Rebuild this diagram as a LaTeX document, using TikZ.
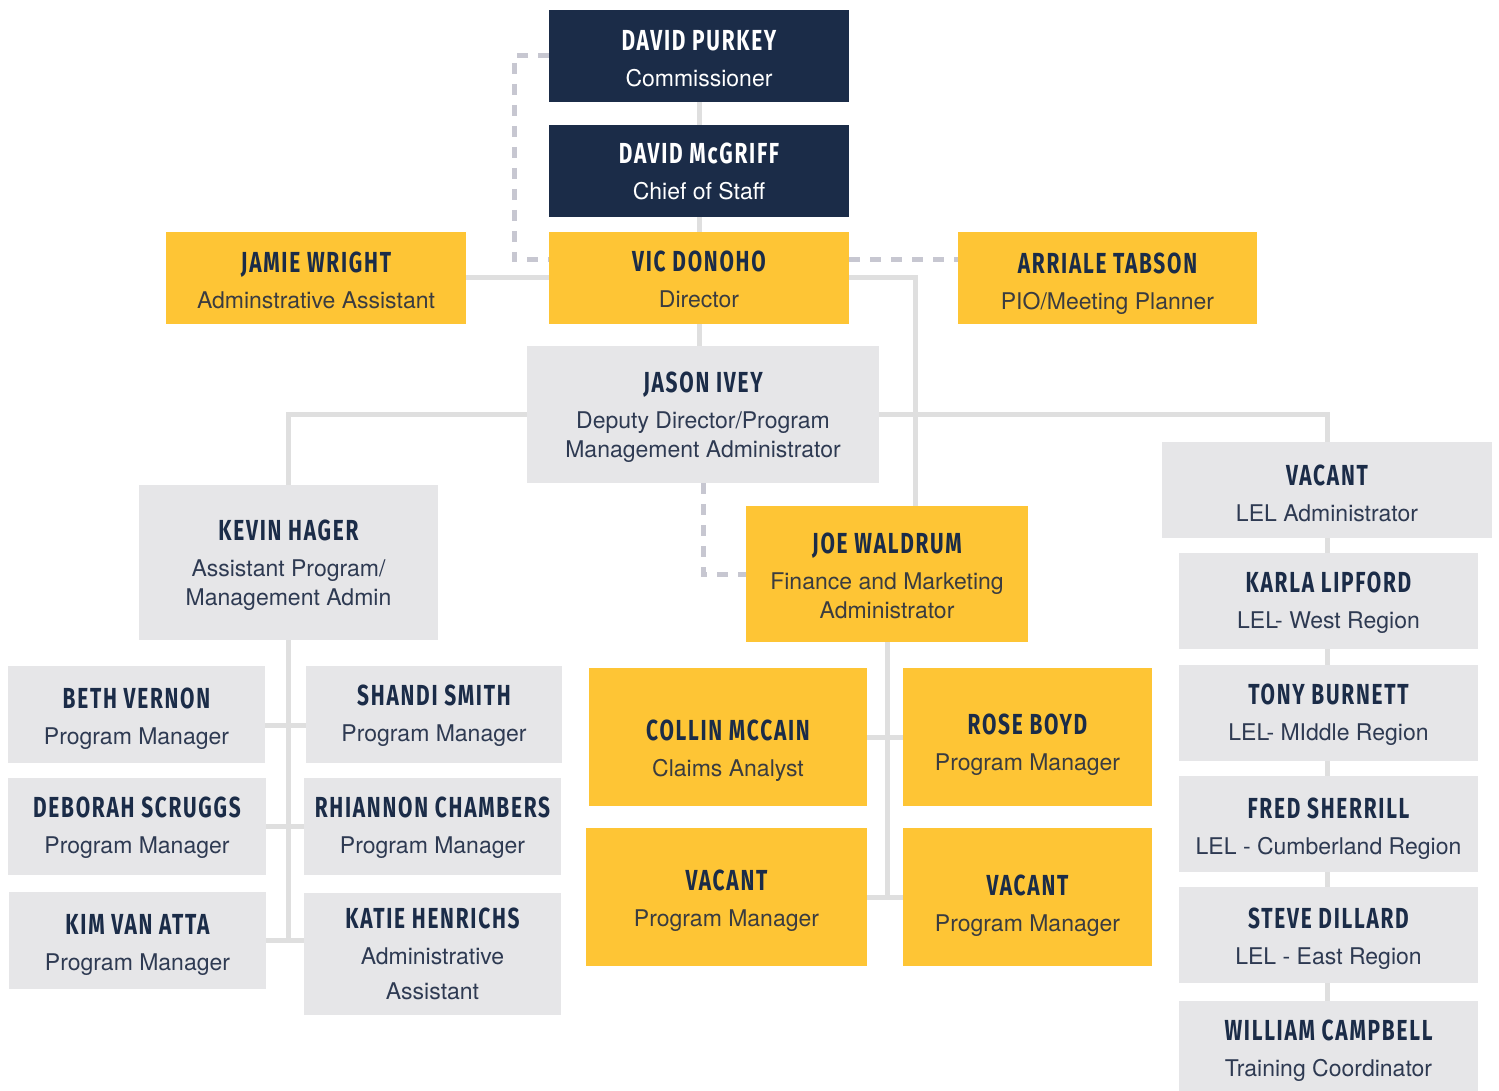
\documentclass[tikz,border=0pt]{standalone}
\usepackage{fontspec}
\setmainfont{TeX Gyre Heros}
\newfontfamily\namefont[FakeStretch=0.72,LetterSpace=6]{Fira Sans}
\usetikzlibrary{calc,backgrounds}
\definecolor{navy}{HTML}{1B2C48}
\definecolor{gold}{HTML}{FEC535}
\definecolor{boxgray}{HTML}{E6E6E8}
\definecolor{linegray}{HTML}{DFDFDF}
\definecolor{dashgray}{HTML}{C7C7D1}
\definecolor{goldtext}{HTML}{3A3C40}
\definecolor{graytext}{HTML}{2E3A52}
\colorlet{namecol}{navy}
\newcommand{\nm}[2][3pt]{{\color{namecol}\namefont\bfseries\fontsize{14.5}{14.5}\selectfont\rule{0pt}{\dimexpr10pt+#1\relax}#2}\\[3.5pt]}

\begin{document}
\begin{tikzpicture}[x=0.5pt,y=-0.5pt,
  sz/.style 2 args={minimum width=#1*0.5pt,minimum height=#2*0.5pt},
  card/.style={inner sep=0pt,outer sep=0pt,align=center,font=\fontsize{11.5}{14.5}\selectfont},
  darkbox/.style={card,fill=navy,text=white,execute at begin node={\colorlet{namecol}{white}}},
  goldbox/.style={card,fill=gold,text=goldtext},
  greybox/.style={card,fill=boxgray,text=graytext},
  link/.style={draw=linegray,line width=2.5pt},
  dashlink/.style={draw=dashgray,line width=2.5pt,dash pattern=on 5.5pt off 5pt}]
\useasboundingbox (0,0) rectangle (1499,1091);

\node[darkbox,sz={300}{92}] (purkey) at (699,56) {\nm{DAVID PURKEY}Commissioner};
\node[darkbox,sz={300}{92}] (mcgriff) at (699,171) {\nm[1pt]{DAVID McGRIFF}Chief of Staff};
\node[goldbox,sz={300}{92}] (donoho) at (699,278) {\nm[2pt]{VIC DONOHO}Director};
\node[goldbox,sz={300}{92}] (wright) at (316,278) {\nm{JAMIE WRIGHT}Adminstrative Assistant};
\node[goldbox,sz={299}{92}] (tabson) at (1107.5,278) {\nm[6pt]{ARRIALE TABSON}PIO/Meeting Planner};
\node[greybox,sz={352}{137}] (ivey) at (703,414.5) {\nm[3.5pt]{JASON IVEY}Deputy Director/Program\\Management Administrator};
\node[greybox,sz={299}{155}] (hager) at (288.5,562.5) {\nm[3.5pt]{KEVIN HAGER}Assistant Program/\\Management Admin};
\node[goldbox,sz={282}{136}] (waldrum) at (887,574) {\nm[2pt]{JOE WALDRUM}Finance and Marketing\\Administrator};

\node[greybox,sz={330}{96}] (lel) at (1327,490) {\nm[4pt]{VACANT}LEL Administrator};
\node[greybox,sz={299}{96}] (lipford) at (1328.5,601) {\nm[2pt]{KARLA LIPFORD}LEL- West Region};
\node[greybox,sz={299}{96}] (burnett) at (1328.5,713) {\nm[2.5pt]{TONY BURNETT}LEL- MIddle Region};
\node[greybox,sz={299}{96}] (sherrill) at (1328.5,824) {\nm[5pt]{FRED SHERRILL}LEL - Cumberland Region};
\node[greybox,sz={299}{96}] (dillard) at (1328.5,935) {\nm[4pt]{STEVE DILLARD}LEL - East Region};
\node[greybox,sz={299}{96}] (campbell) at (1328.5,1049) {\nm[2pt]{WILLIAM CAMPBELL}Training Coordinator};

\node[greybox,sz={257}{97}] (vernon) at (136.5,714.5) {\nm[4.5pt]{BETH VERNON}Program Manager};
\node[greybox,sz={258}{97}] (scruggs) at (137,826.5) {\nm[1.5pt]{DEBORAH SCRUGGS}Program Manager};
\node[greybox,sz={257}{97}] (vanatta) at (137.5,940.5) {\nm[4pt]{KIM VAN ATTA}Program Manager};
\node[greybox,sz={256}{97}] (smith) at (434,714.5) {\nm[1.5pt]{SHANDI SMITH}Program Manager};
\node[greybox,sz={257}{97}] (chambers) at (432.5,826.5) {\nm[1.5pt]{RHIANNON CHAMBERS}Program Manager};
\node[greybox,sz={257}{122}] (henrichs) at (432.5,954) {\nm[0pt]{KATIE HENRICHS}Administrative\\[3pt]Assistant};

\node[goldbox,sz={278}{138}] (mccain) at (728,737) {\nm[14pt]{COLLIN MCCAIN}Claims Analyst};
\node[goldbox,sz={249}{138}] (boyd) at (1027.5,737) {\nm[8.5pt]{ROSE BOYD}Program Manager};
\node[goldbox,sz={281}{138}] (vacantl) at (726.5,897) {\nm[3.5pt]{VACANT}Program Manager};
\node[goldbox,sz={249}{138}] (vacantr) at (1027.5,897) {\nm[9pt]{VACANT}Program Manager};

\begin{scope}[on background layer]
\draw[link] (purkey) -- (mcgriff) (mcgriff) -- (donoho);
\draw[link] (donoho.south) -- (donoho.south |- ivey.north);
\draw[link] (wright) -- (donoho);
\draw[link] (donoho.east) -| ($(waldrum.north)+(28,0)$);
\draw[link] (ivey.west) -| (hager.north);
\draw[link] (ivey.east) -| (lel.north);
\draw[link] (lel.south) -- (lel.south |- campbell.north);
\draw[link] (hager.south) -- (hager.south |- vanatta.east);
\draw[link] ($(vernon.east)+(0,11)$) -- ($(smith.west)+(0,11)$);
\draw[link] (scruggs) -- (chambers);
\draw[link] (vanatta.east) -- (vanatta.east -| henrichs.west);
\draw[link] (waldrum.south) -- (waldrum.south |- vacantl.east);
\draw[link] (mccain) -- (boyd);
\draw[link] (vacantl) -- (vacantr);
\draw[dashlink] (purkey.west) -- ++(-35,0) |- ($(donoho.west)+(0,-18)$);
\draw[dashlink] ($(donoho.east)+(0,-18)$) -- ($(tabson.west)+(0,-18)$);
\draw[dashlink] (ivey.south) |- (waldrum.west);
\end{scope}
\end{tikzpicture}
\end{document}
